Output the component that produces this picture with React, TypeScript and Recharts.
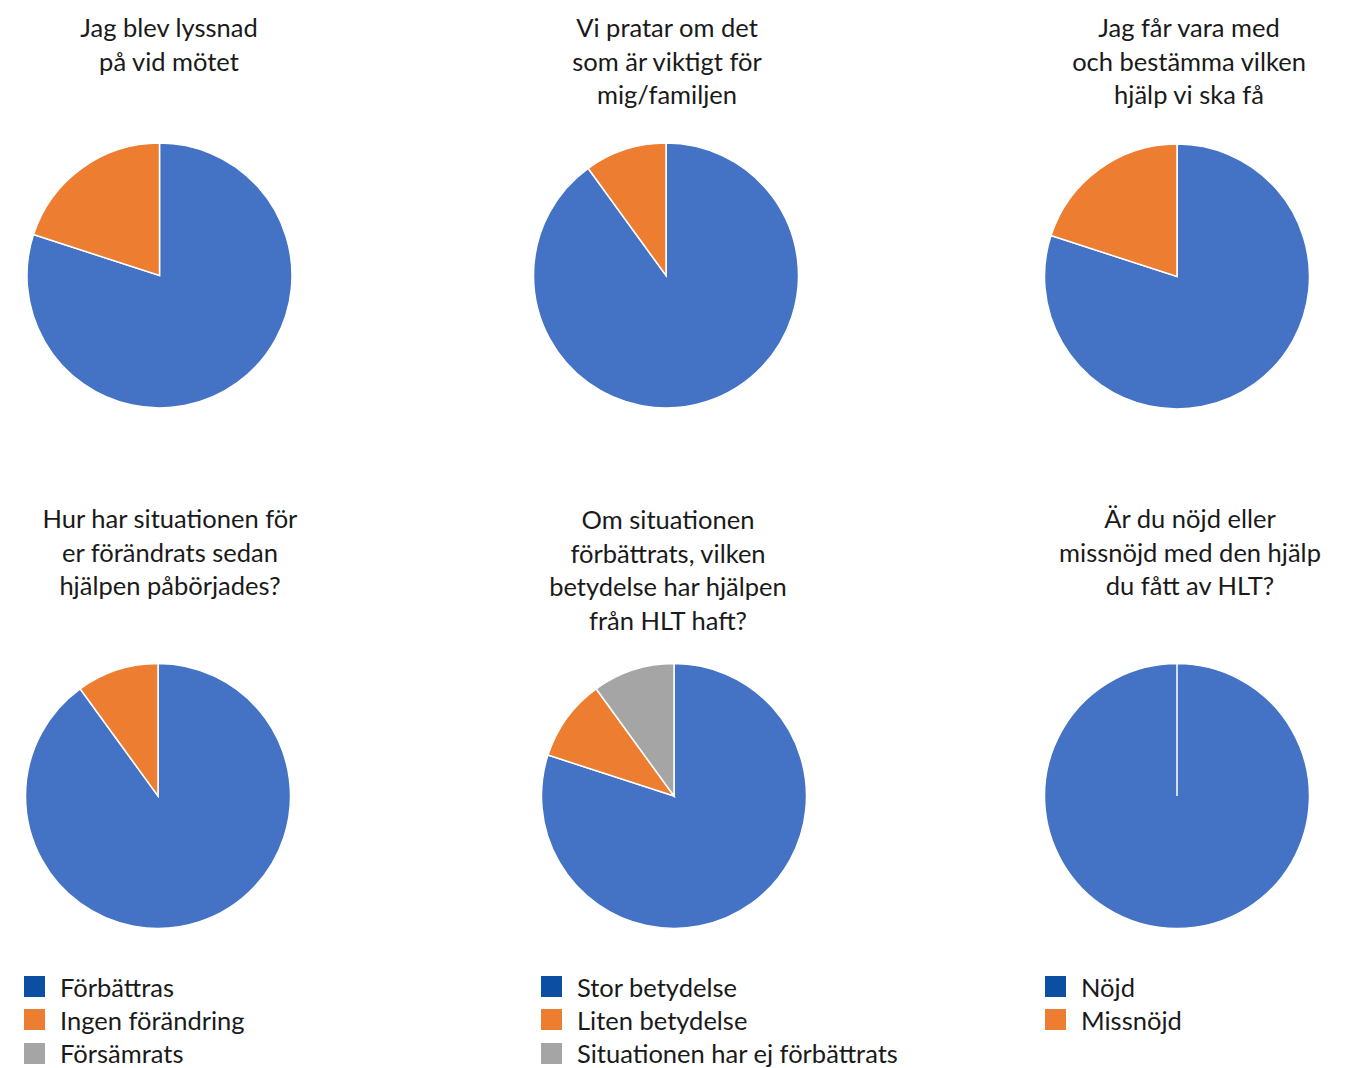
import React from "react";
import { PieChart, Pie, Cell } from "recharts";

// Enkätsvar i procent, medurs från klockan tolv
const lyssnad = [80, 20];
const viktigt = [90, 10];
const bestamma = [80, 20];
const situation = [90, 10, 0];
const betydelse = [80, 10, 10];
const nojd = [100, 0];

const titles = [
  ["Jag blev lyssnad", "på vid mötet"],
  ["Vi pratar om det", "som är viktigt för", "mig/familjen"],
  ["Jag får vara med", "och bestämma vilken", "hjälp vi ska få"],
  ["Hur har situationen för", "er förändrats sedan", "hjälpen påbörjades?"],
  ["Om situationen", "förbättrats, vilken", "betydelse har hjälpen", "från HLT haft?"],
  ["Är du nöjd eller", "missnöjd med den hjälp", "du fått av HLT?"],
];

const legendSituation = ["Förbättras", "Ingen förändring", "Försämrats"];
const legendBetydelse = ["Stor betydelse", "Liten betydelse", "Situationen har ej förbättrats"];
const legendNojd = ["Nöjd", "Missnöjd"];

const SLICE_COLORS = ["#4472C4", "#ED7D31", "#A5A5A5"];
const LEGEND_COLORS = ["#0B4EA2", "#ED7D31", "#A5A5A5"];

const FONT = "Lato, 'Open Sans', sans-serif";

const pies = [
  { values: lyssnad, cx: 159.5, cy: 275.5, tx: 169, ty: 11 },
  { values: viktigt, cx: 666, cy: 275.5, tx: 667, ty: 11 },
  { values: bestamma, cx: 1177, cy: 276.5, tx: 1189, ty: 11 },
  { values: situation, cx: 158, cy: 796, tx: 170, ty: 502 },
  { values: betydelse, cx: 674, cy: 796, tx: 668, ty: 503 },
  { values: nojd, cx: 1177, cy: 796, tx: 1190, ty: 502 },
];

const legends = [
  { items: legendSituation, x: 24 },
  { items: legendBetydelse, x: 541 },
  { items: legendNojd, x: 1045 },
];

export default function App() {
  return (
    <div
      style={{
        position: "absolute",
        left: 0,
        top: 0,
        width: 1358,
        height: 1068,
        background: "#fff",
        fontFamily: FONT,
        color: "#1a1a1a",
      }}
    >
      <PieChart
        width={1358}
        height={1068}
        margin={{ top: 0, right: 0, bottom: 0, left: 0 }}
        style={{ position: "absolute", left: 0, top: 0 }}
      >
        {pies.map((p, i) => (
          <Pie
            key={i}
            data={p.values.map((v, j) => ({ name: String(j), value: v }))}
            dataKey="value"
            cx={p.cx}
            cy={p.cy}
            outerRadius={132.5}
            startAngle={90}
            endAngle={-270}
            stroke="#ffffff"
            strokeWidth={1.5}
            isAnimationActive={false}
          >
            {p.values.map((_, j) => (
              <Cell key={j} fill={SLICE_COLORS[j]} />
            ))}
          </Pie>
        ))}
      </PieChart>
      {pies.map((p, i) => (
        <div
          key={"t" + i}
          style={{
            position: "absolute",
            left: p.tx - 200,
            top: p.ty,
            width: 400,
            textAlign: "center",
            fontSize: 25.5,
            lineHeight: "33.7px",
          }}
        >
          {titles[i].map((line, k) => (
            <div key={k}>{line}</div>
          ))}
        </div>
      ))}
      {legends.map((lg, i) => (
        <div key={"l" + i} style={{ position: "absolute", left: lg.x, top: 970 }}>
          {lg.items.map((name, j) => (
            <div
              key={j}
              style={{ display: "flex", alignItems: "center", height: 33.3, fontSize: 25.5 }}
            >
              <span
                style={{
                  display: "inline-block",
                  width: 21,
                  height: 21,
                  background: LEGEND_COLORS[j],
                  marginRight: 15,
                }}
              />
              <span>{name}</span>
            </div>
          ))}
        </div>
      ))}
    </div>
  );
}
